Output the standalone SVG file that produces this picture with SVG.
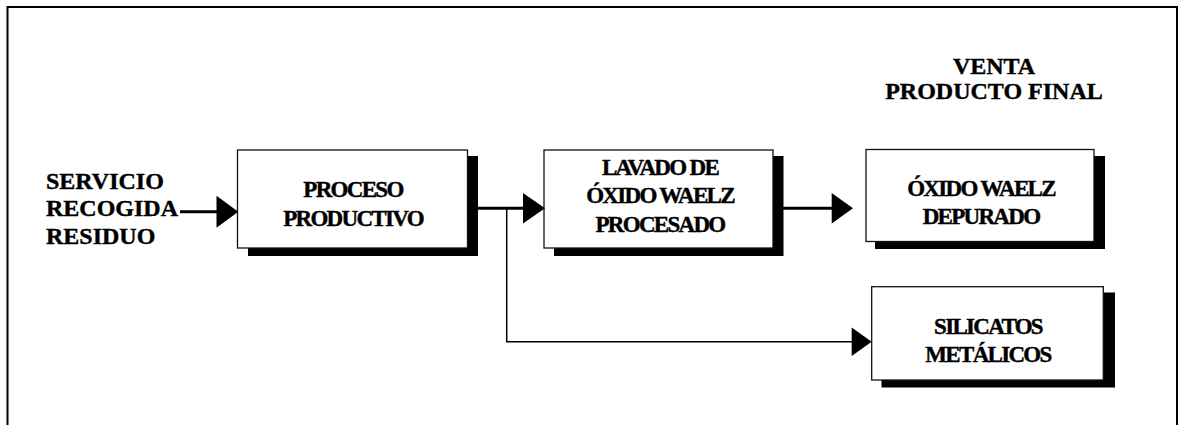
<svg xmlns="http://www.w3.org/2000/svg" width="1180" height="425" viewBox="0 0 1180 425">
  <style>
    .lbl { font-family: "Liberation Serif", "Times New Roman", serif; font-weight: bold; font-size: 24px; fill: #000; stroke: #000; stroke-width: 0.4px; }
    .box { fill: #fff; stroke: #111; stroke-width: 1.3; }
    .shadow { fill: #000; }
    .btxt { font-family: "Liberation Serif", "Times New Roman", serif; font-weight: bold; font-size: 23px; letter-spacing: -1.7px; fill: #000; stroke: #000; stroke-width: 0.4px; text-anchor: middle; }
    .thick { stroke: #000; stroke-width: 3; fill: none; }
    .thin { stroke: #000; stroke-width: 1.5; fill: none; }
    .head { fill: #000; stroke: none; }
  </style>
  <rect width="1180" height="425" fill="#fff"/>
  <path d="M7.5,430 V7 H1177 V430" fill="none" stroke="#000" stroke-width="2"/>

  <g id="label-servicio">
    <text class="lbl" x="46" y="188.5">SERVICIO</text>
    <text class="lbl" x="46" y="216">RECOGIDA</text>
    <text class="lbl" x="46" y="243.5">RESIDUO</text>
  </g>

  <g id="label-venta">
    <text class="lbl" x="994" y="74" text-anchor="middle">VENTA</text>
    <text class="lbl" x="994" y="98.5" text-anchor="middle">PRODUCTO FINAL</text>
  </g>

  <g id="node-proceso">
    <rect class="shadow" x="248" y="156" width="230" height="100"/>
    <rect class="box" x="237.5" y="150" width="230" height="98"/>
    <text class="btxt" x="353" y="197">PROCESO</text>
    <text class="btxt" x="353" y="226">PRODUCTIVO</text>
  </g>

  <g id="node-lavado">
    <rect class="shadow" x="554" y="156" width="229.5" height="100"/>
    <rect class="box" x="544" y="150" width="229" height="98"/>
    <text class="btxt" x="660" y="174.5">LAVADO DE</text>
    <text class="btxt" x="660" y="203">ÓXIDO WAELZ</text>
    <text class="btxt" x="660" y="231.5">PROCESADO</text>
  </g>

  <g id="node-oxido">
    <rect class="shadow" x="875" y="156" width="230" height="93"/>
    <rect class="box" x="866" y="149.5" width="228" height="92"/>
    <text class="btxt" x="981" y="196">ÓXIDO WAELZ</text>
    <text class="btxt" x="981" y="224">DEPURADO</text>
  </g>

  <g id="node-silicatos">
    <rect class="shadow" x="881.5" y="292.5" width="233.5" height="95"/>
    <rect class="box" x="871.7" y="286.7" width="231.6" height="93.3"/>
    <text class="btxt" x="988" y="333.5">SILICATOS</text>
    <text class="btxt" x="988" y="362">METÁLICOS</text>
  </g>

  <g id="connectors">
    <line class="thick" x1="180" y1="211.7" x2="218" y2="211.7"/>
    <polygon class="head" points="216.5,195.7 238.3,211.7 216.5,227.7"/>

    <line class="thick" x1="467" y1="208.3" x2="524" y2="208.3"/>
    <polygon class="head" points="523,193 545,208.3 523,223.6"/>

    <line class="thick" x1="773" y1="208.3" x2="833" y2="208.3"/>
    <polygon class="head" points="831.7,193 853,208.3 831.7,223.6"/>

    <polyline class="thin" points="506.7,208.3 506.7,341.7 853,341.7"/>
    <polygon class="head" points="851.7,327.5 871.7,341.7 851.7,356"/>
  </g>
</svg>
